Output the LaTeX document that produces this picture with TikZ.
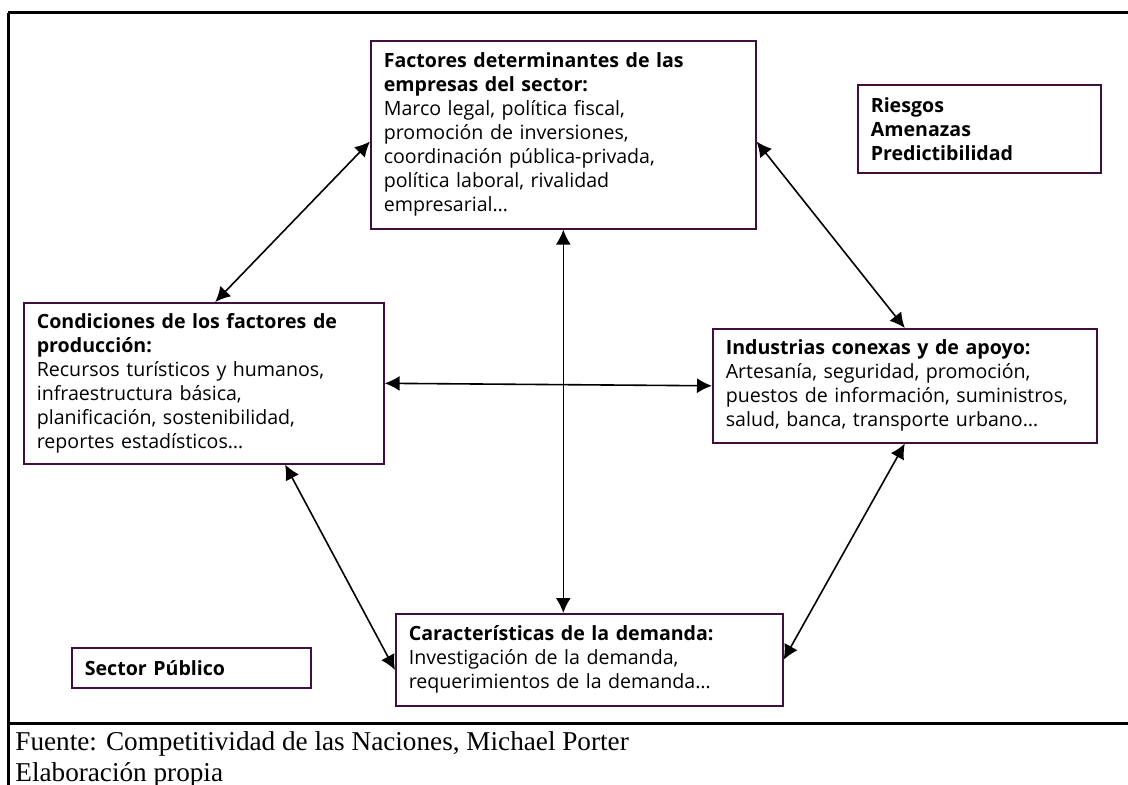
\documentclass[tikz,border=0pt]{standalone}
\usepackage{fontspec}
\setmainfont{Open Sans}
\newfontfamily\capfont{Liberation Serif}
\usetikzlibrary{arrows.meta,calc}
\definecolor{boxline}{HTML}{3F0F3F}

\begin{document}
\begin{tikzpicture}[x=0.5pt,y=-0.5pt,
  factorbox/.style={draw=boxline, line width=0.8pt, anchor=north west, align=left,
    inner xsep=6.5pt, font=\fontsize{9.8}{12}\selectfont},
  link/.style={{Latex[length=7.5pt,width=7.5pt]}-{Latex[length=7.5pt,width=7.5pt]}, line width=0.8pt},
  frame/.style={line width=1.5pt},
  caption/.style={anchor=base west, inner sep=0pt, font=\capfont\fontsize{13.6}{15}\selectfont}]
\useasboundingbox (0,0) rectangle (1128,785);

% marco
\draw[frame] (8,13) -- (1128,13);
\draw[frame] (8,13) -- (8,785);
\draw[frame] (8,723) -- (1128,723);

% determinantes
\node[factorbox, text width=179.5pt, minimum height=94pt] (fact) at (370,40) {\textbf{Factores determinantes de las}\\\textbf{empresas del sector:}\\Marco legal, política fiscal,\\promoción de inversiones,\\coordinación pública-privada,\\política laboral, rivalidad\\empresarial…};
\node[factorbox, text width=167pt, minimum height=80.5pt] (cond) at (23,302) {\textbf{Condiciones de los factores de}\\\textbf{producción:}\\Recursos turísticos y humanos,\\infraestructura básica,\\planificación, sostenibilidad,\\reportes estadísticos…};
\node[factorbox, text width=179pt, minimum height=57pt] (ind) at (712,328) {\textbf{Industrias conexas y de apoyo:}\\Artesanía, seguridad, promoción,\\puestos de información, suministros,\\salud, banca, transporte urbano…};
\node[factorbox, text width=180.5pt, minimum height=46pt] (dem) at (395,613) {\textbf{Características de la demanda:}\\Investigación de la demanda,\\requerimientos de la demanda…};

% externos
\node[factorbox, text width=106.5pt, minimum height=20pt] (pub) at (71,647) {\textbf{Sector Público}};
\node[factorbox, text width=108.5pt, minimum height=44pt] (risk) at (857,84) {\textbf{Riesgos}\\\textbf{Amenazas}\\\textbf{Predictibilidad}};

% relaciones
\draw[link] (cond.82) -- (fact.182);
\draw[link] (fact.-2) -- (ind.north);
\draw[link] (cond.east) -- (ind.west);
\draw[link] (fact.south) -- (fact.south |- dem.north);
\draw[link] (cond.-45) -- (dem.183);
\draw[link] (ind.south) -- (dem.east);

% fuente
\node[caption] (src) at (15,750) {Fuente: Competitividad de las Naciones, Michael Porter};
\node[caption] (own) at (15,781) {Elaboración propia};
\end{tikzpicture}
\end{document}
